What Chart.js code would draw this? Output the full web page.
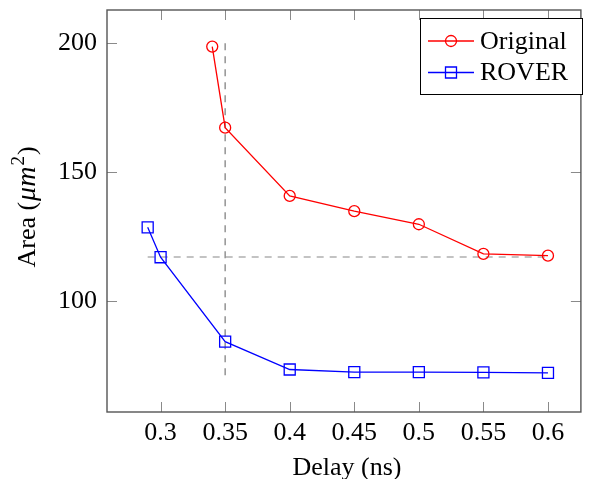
<!DOCTYPE html>
<html>
<head>
<meta charset="utf-8">
<script src="https://cdn.jsdelivr.net/npm/chart.js@4.4.1/dist/chart.umd.min.js"></script>
<style>
  html, body { margin: 0; padding: 0; background: #fff; }
  #wrap { width: 590px; height: 479px; position: relative; }
</style>
</head>
<body>
<div id="wrap"><canvas id="areaChart"></canvas></div>
<script>
// Delay vs area data
const originalDelay = [0.34, 0.35, 0.4, 0.45, 0.5, 0.55, 0.6];
const originalArea = [198.7, 167.2, 140.7, 134.8, 129.7, 118.2, 117.5];
const roverDelay = [0.29, 0.3, 0.35, 0.4, 0.45, 0.5, 0.55, 0.6];
const roverArea = [128.5, 116.9, 84.1, 73.3, 72.3, 72.3, 72.2, 72.0];

// reference guides
const vGuideX = [0.35, 0.35];
const vGuideY = [200, 70];
const hGuideX = [0.29, 0.6];
const hGuideY = [117, 117];

const xTicks = [0.3, 0.35, 0.4, 0.45, 0.5, 0.55, 0.6];
const yTicks = [100, 150, 200];

const FONT = "'Liberation Serif', 'DejaVu Serif', serif";

function toPoints(xs, ys) {
    return xs.map((x, i) => ({ x: x, y: ys[i] }));
}

// box frame, inner ticks, titles and legend (pgfplots look)
const framePlugin = {
    id: 'frame',
    afterDraw(chart) {
        const ctx = chart.ctx;
        const a = chart.chartArea;
        const xs = chart.scales.x;
        const ys = chart.scales.y;
        ctx.save();

        // inner ticks on all sides
        ctx.strokeStyle = '#8a8a8a';
        ctx.lineWidth = 1;
        ctx.beginPath();
        xTicks.forEach(v => {
            const px = Math.round(xs.getPixelForValue(v)) + 0.5;
            ctx.moveTo(px, a.bottom); ctx.lineTo(px, a.bottom - 10);
            ctx.moveTo(px, a.top); ctx.lineTo(px, a.top + 10);
        });
        yTicks.forEach(v => {
            const py = Math.round(ys.getPixelForValue(v)) + 0.5;
            ctx.moveTo(a.left, py); ctx.lineTo(a.left + 10, py);
            ctx.moveTo(a.right, py); ctx.lineTo(a.right - 10, py);
        });
        ctx.stroke();

        // frame
        ctx.strokeStyle = '#555';
        ctx.lineWidth = 1.4;
        ctx.strokeRect(a.left, a.top, a.right - a.left, a.bottom - a.top);

        // x title
        ctx.fillStyle = '#000';
        ctx.font = '26px ' + FONT;
        ctx.textAlign = 'center';
        ctx.textBaseline = 'alphabetic';
        ctx.fillText('Delay (ns)', (a.left + a.right) / 2 + 3, 475);

        // y title: Area (μm²) with italic μm
        ctx.save();
        ctx.translate(35, (a.top + a.bottom) / 2 - 4);
        ctx.rotate(-Math.PI / 2);
        const parts = [
            { t: 'Area (', f: '26px ' + FONT, dy: 0, gap: 1 },
            { t: 'μm', f: 'italic 28px ' + FONT, dy: 0, gap: 1 },
            { t: '2', f: '19px ' + FONT, dy: -11, gap: 1 },
            { t: ')', f: '26px ' + FONT, dy: 0, gap: 0 }
        ];
        let total = 0;
        parts.forEach(p => { ctx.font = p.f; p.w = ctx.measureText(p.t).width + p.gap; total += p.w; });
        let cx = -total / 2;
        ctx.textAlign = 'left';
        parts.forEach(p => {
            ctx.font = p.f;
            ctx.fillText(p.t, cx, p.dy);
            cx += p.w;
        });
        ctx.restore();

        // legend box
        const lx = 420, ly = 18, lw = 162, lh = 76;
        ctx.fillStyle = '#fff';
        ctx.fillRect(lx, ly, lw, lh);
        ctx.strokeStyle = '#000';
        ctx.lineWidth = 1;
        ctx.strokeRect(lx + 0.5, ly + 0.5, lw, lh);
        const rows = [41, 72.5];
        chart.data.datasets.slice(0, 2).forEach((ds, i) => {
            const y = rows[i];
            ctx.strokeStyle = ds.borderColor;
            ctx.lineWidth = 1.3;
            ctx.beginPath();
            ctx.moveTo(428, y); ctx.lineTo(474, y);
            ctx.stroke();
            ctx.beginPath();
            if (ds.pointStyle === 'circle') {
                ctx.arc(451, y, 5.5, 0, Math.PI * 2);
            } else {
                ctx.rect(445.5, y - 5.5, 11, 11);
            }
            ctx.stroke();
            ctx.fillStyle = '#000';
            ctx.font = '26px ' + FONT;
            ctx.textAlign = 'left';
            ctx.textBaseline = 'middle';
            ctx.fillText(ds.label, 480, y + 1);
        });
        ctx.restore();
    }
};

function noPad(scale) {
    scale.paddingTop = 0;
    scale.paddingBottom = 0;
    scale.paddingLeft = 0;
    scale.paddingRight = 0;
}

new Chart(document.getElementById('areaChart'), {
    type: 'scatter',
    data: {
        datasets: [
            {
                label: 'Original',
                data: toPoints(originalDelay, originalArea),
                showLine: true,
                borderColor: '#ff0000',
                backgroundColor: 'rgba(0,0,0,0)',
                borderWidth: 1.3,
                pointStyle: 'circle',
                pointRadius: 5.5,
                pointBorderWidth: 1.3,
                pointBackgroundColor: 'rgba(0,0,0,0)'
            },
            {
                label: 'ROVER',
                data: toPoints(roverDelay, roverArea),
                showLine: true,
                borderColor: '#0000ff',
                backgroundColor: 'rgba(0,0,0,0)',
                borderWidth: 1.3,
                pointStyle: 'rect',
                pointRadius: 7.8,
                pointBorderWidth: 1.3,
                pointBackgroundColor: 'rgba(0,0,0,0)'
            },
            {
                label: 'vguide',
                data: toPoints(vGuideX, vGuideY),
                showLine: true,
                borderColor: '#8c8c8c',
                borderWidth: 1.4,
                borderDash: [7, 6],
                pointRadius: 0
            },
            {
                label: 'hguide',
                data: toPoints(hGuideX, hGuideY),
                showLine: true,
                borderColor: '#b0b0b0',
                borderWidth: 1.6,
                borderDash: [7, 6],
                pointRadius: 0
            }
        ]
    },
    options: {
        responsive: true,
        maintainAspectRatio: false,
        animation: false,
        layout: { padding: { top: 10, right: 6, left: 0, bottom: 0 } },
        plugins: {
            legend: { display: false },
            tooltip: { enabled: false }
        },
        scales: {
            x: {
                type: 'linear',
                min: 0.2585,
                max: 0.6255,
                grid: { display: false, drawTicks: false },
                border: { display: false },
                afterBuildTicks: scale => { scale.ticks = xTicks.map(v => ({ value: v })); },
                afterFit: scale => { scale.height = 67; noPad(scale); },
                ticks: {
                    padding: 6,
                    color: '#000',
                    font: { family: FONT, size: 26 },
                    callback: v => String(v)
                }
            },
            y: {
                type: 'linear',
                min: 56.8,
                max: 212.9,
                grid: { display: false, drawTicks: false },
                border: { display: false },
                afterBuildTicks: scale => { scale.ticks = yTicks.map(v => ({ value: v })); },
                afterFit: scale => { scale.width = 107; noPad(scale); },
                ticks: {
                    padding: 10,
                    color: '#000',
                    font: { family: FONT, size: 26 },
                    callback: v => String(v)
                }
            }
        }
    },
    plugins: [framePlugin]
});
</script>
</body>
</html>
